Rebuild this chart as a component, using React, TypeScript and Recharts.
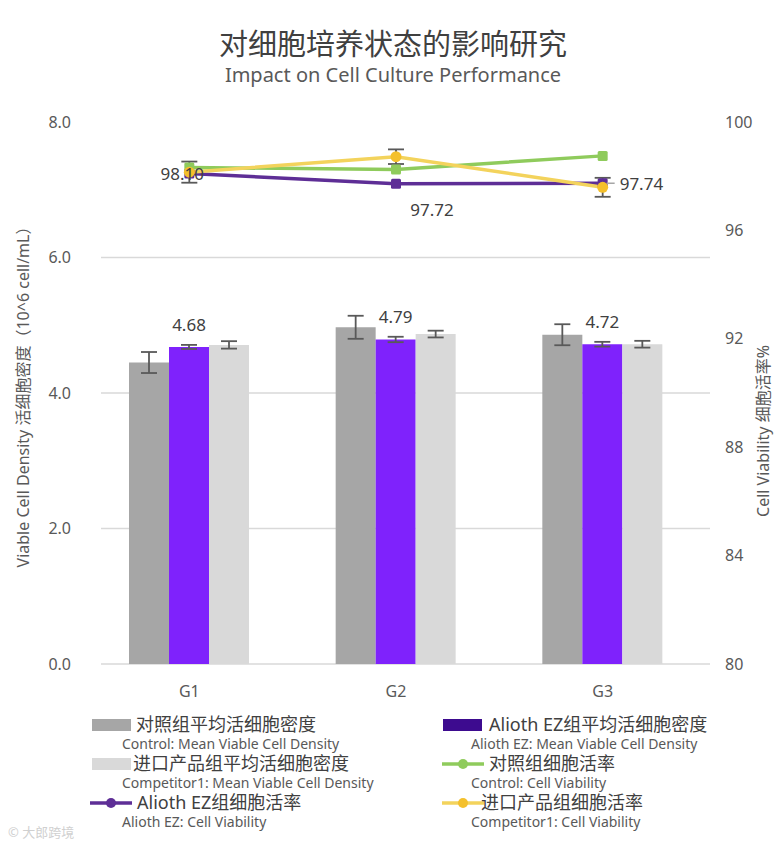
import React from "react";
import {
  ComposedChart,
  Bar,
  Line,
  XAxis,
  YAxis,
  CartesianGrid,
  ErrorBar,
  LabelList,
} from "recharts";

const groups = ["G1", "G2", "G3"];

// viable cell density (10^6 cell/mL), left axis
const controlDensity = [4.45, 4.97, 4.86];
const controlDensityErr = [0.155, 0.17, 0.155];
const aliothDensity = [4.68, 4.79, 4.72];
const aliothDensityErr = [0.03, 0.04, 0.035];
const competitorDensity = [4.71, 4.87, 4.72];
const competitorDensityErr = [0.055, 0.05, 0.05];

// cell viability (%), right axis
const controlViability = [98.32, 98.25, 98.75];
const aliothViability = [98.1, 97.72, 97.74];
const competitorViability = [98.15, 98.72, 97.59];
const competitorViabilityErr = [0.39, 0.27, 0.35];

const densityTicks = [0, 2, 4, 6, 8];
const viabilityTicks = [80, 84, 88, 92, 96, 100];

const FONT = '"Noto Sans", "Noto Sans CJK SC", sans-serif';
const TEXT = "#404040";
const MUTED = "#595959";

const C_GREY = "#a6a6a6";
const C_VIOLET = "#7f22fc";
const C_LIGHT = "#d9d9d9";
const C_INDIGO = "#3d0b8f";
const C_GREEN = "#8fcb5c";
const C_PURPLE = "#5e2e96";
const C_YELLOW = "#f3d35c";
const C_YELLOW_DOT = "#f4c02c";

const data = groups.map((g, i) => ({
  group: g,
  controlDensity: controlDensity[i],
  controlDensityErr: controlDensityErr[i],
  aliothDensity: aliothDensity[i],
  aliothDensityErr: aliothDensityErr[i],
  competitorDensity: competitorDensity[i],
  competitorDensityErr: competitorDensityErr[i],
  controlViability: controlViability[i],
  aliothViability: aliothViability[i],
  competitorViability: competitorViability[i],
  competitorViabilityErr: competitorViabilityErr[i],
}));

const squareDot = (color: string) => (p: any) => (
  <rect key={`sq-${color}-${p.index}`} x={p.cx - 5} y={p.cy - 5} width={10} height={10} rx={1.5} fill={color} />
);
const roundDot = (color: string) => (p: any) => (
  <circle key={`ci-${color}-${p.index}`} cx={p.cx} cy={p.cy} r={5.5} fill={color} />
);

// purple line labels sit left / below / right of the points, as in the source
const viabilityLabel = (p: any) => {
  const { x, y, value, index } = p;
  const txt = Number(value).toFixed(2);
  const common = { fontSize: 17, fill: TEXT, fontFamily: FONT };
  if (index === 0)
    return (
      <text key="vl0" x={x - 7} y={y} textAnchor="middle" dominantBaseline="central" {...common}>
        {txt}
      </text>
    );
  if (index === 1)
    return (
      <text key="vl1" x={x + 36} y={y + 26} textAnchor="middle" dominantBaseline="central" {...common}>
        {txt}
      </text>
    );
  return (
    <g key="vl2">
      <line x1={x + 4} y1={y} x2={x + 12} y2={y} stroke="#a6a6a6" strokeWidth={1.5} />
      <text x={x + 17} y={y} textAnchor="start" dominantBaseline="central" {...common}>
        {txt}
      </text>
    </g>
  );
};

const gridLine = (p: any) => (
  <line key={p.key} x1={p.x1 + 15} y1={p.y1} x2={p.x2 + 4} y2={p.y2} stroke="#d9d9d9" strokeWidth={1.5} />
);

function Swatch({ color }: { color: string }) {
  return <span style={{ display: "inline-block", width: 39, height: 12, background: color }} />;
}

function LineSwatch({ color, dot }: { color: string; dot: string }) {
  return (
    <svg width={44} height={14} style={{ display: "block" }}>
      <line x1={1} y1={7} x2={43} y2={7} stroke={color} strokeWidth={3.5} />
      <circle cx={22} cy={7} r={5} fill={dot} />
    </svg>
  );
}

type LegendItem = {
  left: number;
  top: number;
  marker: React.ReactNode;
  zh: string;
  en: string;
  textLeft: number;
  subLeft: number;
};

const legendItems: LegendItem[] = [
  { left: 92, top: 725, marker: <Swatch color={C_GREY} />, zh: "对照组平均活细胞密度", en: "Control: Mean Viable Cell Density", textLeft: 136, subLeft: 122 },
  { left: 443, top: 725, marker: <Swatch color={C_INDIGO} />, zh: "Alioth EZ组平均活细胞密度", en: "Alioth EZ: Mean Viable Cell Density", textLeft: 489, subLeft: 471 },
  { left: 92, top: 764, marker: <Swatch color={C_LIGHT} />, zh: "进口产品组平均活细胞密度", en: "Competitor1: Mean Viable Cell Density", textLeft: 133, subLeft: 122 },
  { left: 441, top: 764, marker: <LineSwatch color={C_GREEN} dot={C_GREEN} />, zh: "对照组细胞活率", en: "Control: Cell Viability", textLeft: 489, subLeft: 471 },
  { left: 89, top: 803, marker: <LineSwatch color={C_PURPLE} dot={C_PURPLE} />, zh: "Alioth EZ组细胞活率", en: "Alioth EZ: Cell Viability", textLeft: 137, subLeft: 122 },
  { left: 441, top: 803, marker: <LineSwatch color={C_YELLOW} dot={C_YELLOW_DOT} />, zh: "进口产品组细胞活率", en: "Competitor1: Cell Viability", textLeft: 481, subLeft: 471 },
];

export default function App() {
  return (
    <div
      style={{
        position: "absolute",
        left: 0,
        top: 0,
        width: 778,
        height: 850,
        background: "#fff",
        fontFamily: FONT,
        overflow: "hidden",
      }}
    >
      <div style={{ position: "absolute", top: 26, left: 4, width: 778, textAlign: "center", fontSize: 29, color: TEXT, lineHeight: "36px" }}>
        对细胞培养状态的影响研究
      </div>
      <div style={{ position: "absolute", top: 62, left: 4, width: 778, textAlign: "center", fontSize: 20, color: MUTED, lineHeight: "26px" }}>
        Impact on Cell Culture Performance
      </div>

      <div style={{ position: "absolute", left: 0, top: 0 }}>
        <ComposedChart
          width={778}
          height={850}
          data={data}
          margin={{ top: 122, right: 0, bottom: 156, left: 0 }}
          barGap={0}
        >
          <CartesianGrid
            yAxisId="left"
            vertical={false}
            horizontalValues={[0, 2, 4, 6]}
            horizontal={gridLine}
          />
          <XAxis
            dataKey="group"
            axisLine={false}
            tickLine={false}
            tickSize={0}
            tickMargin={22}
            height={30}
            tick={{ fontSize: 16, fill: MUTED, fontFamily: FONT }}
          />
          <YAxis
            yAxisId="left"
            orientation="left"
            width={86}
            domain={[0, 8]}
            ticks={densityTicks}
            interval={0}
            axisLine={false}
            tickLine={false}
            tickSize={0}
            tickMargin={15}
            tickFormatter={(v: number) => v.toFixed(1)}
            tick={{ fontSize: 16, fill: MUTED, fontFamily: FONT }}
          />
          <YAxis
            yAxisId="right"
            orientation="right"
            width={72}
            domain={[80, 100]}
            ticks={viabilityTicks}
            interval={0}
            axisLine={false}
            tickLine={false}
            tickSize={0}
            tickMargin={19}
            tick={{ fontSize: 16, fill: MUTED, fontFamily: FONT, textAnchor: "start" }}
          />

          <Bar yAxisId="left" dataKey="controlDensity" fill={C_GREY} barSize={40} isAnimationActive={false}>
            <ErrorBar dataKey="controlDensityErr" width={8} stroke={MUTED} strokeWidth={1.8} direction="y" />
          </Bar>
          <Bar yAxisId="left" dataKey="aliothDensity" fill={C_VIOLET} barSize={40} isAnimationActive={false}>
            <ErrorBar dataKey="aliothDensityErr" width={8} stroke={MUTED} strokeWidth={1.8} direction="y" />
            <LabelList
              dataKey="aliothDensity"
              position="top"
              offset={16}
              formatter={(v: any) => Number(v).toFixed(2)}
              style={{ fontSize: 17, fill: TEXT, fontFamily: FONT }}
            />
          </Bar>
          <Bar yAxisId="left" dataKey="competitorDensity" fill={C_LIGHT} barSize={40} isAnimationActive={false}>
            <ErrorBar dataKey="competitorDensityErr" width={8} stroke={MUTED} strokeWidth={1.8} direction="y" />
          </Bar>

          <Line
            yAxisId="right"
            type="linear"
            dataKey="aliothViability"
            stroke={C_PURPLE}
            strokeWidth={3.5}
            dot={squareDot(C_PURPLE)}
            activeDot={false}
            isAnimationActive={false}
          >
            <LabelList dataKey="aliothViability" content={viabilityLabel} />
          </Line>
          <Line
            yAxisId="right"
            type="linear"
            dataKey="controlViability"
            stroke={C_GREEN}
            strokeWidth={3.5}
            dot={squareDot(C_GREEN)}
            activeDot={false}
            isAnimationActive={false}
          />
          <Line
            yAxisId="right"
            type="linear"
            dataKey="competitorViability"
            stroke={C_YELLOW}
            strokeWidth={3.5}
            dot={roundDot(C_YELLOW_DOT)}
            activeDot={false}
            isAnimationActive={false}
          >
            <ErrorBar dataKey="competitorViabilityErr" width={8} stroke={MUTED} strokeWidth={1.8} direction="y" />
          </Line>
        </ComposedChart>
      </div>

      <div
        style={{
          position: "absolute",
          left: 22,
          top: 393,
          transform: "translate(-50%, -50%) rotate(-90deg)",
          whiteSpace: "nowrap",
          fontSize: 16,
          color: MUTED,
        }}
      >
        Viable Cell Density 活细胞密度（10^6 cell/mL）
      </div>
      <div
        style={{
          position: "absolute",
          left: 762,
          top: 431,
          transform: "translate(-50%, -50%) rotate(-90deg)",
          whiteSpace: "nowrap",
          fontSize: 16,
          color: MUTED,
        }}
      >
        Cell Viability 细胞活率%
      </div>

      {legendItems.map((it) => (
        <React.Fragment key={it.zh}>
          <div style={{ position: "absolute", left: it.left, top: it.top, transform: "translateY(-50%)", lineHeight: 0 }}>
            {it.marker}
          </div>
          <div style={{ position: "absolute", left: it.textLeft, top: it.top - 10, fontSize: 18, color: TEXT, lineHeight: "18px", whiteSpace: "nowrap" }}>
            {it.zh}
          </div>
          <div style={{ position: "absolute", left: it.subLeft, top: it.top + 11, fontSize: 14, color: MUTED, lineHeight: "15px", whiteSpace: "nowrap" }}>
            {it.en}
          </div>
        </React.Fragment>
      ))}

      <div style={{ position: "absolute", left: 8, top: 822, fontSize: 13, color: "#d0d0d0", whiteSpace: "nowrap" }}>
        © 大郎跨境
      </div>
    </div>
  );
}
